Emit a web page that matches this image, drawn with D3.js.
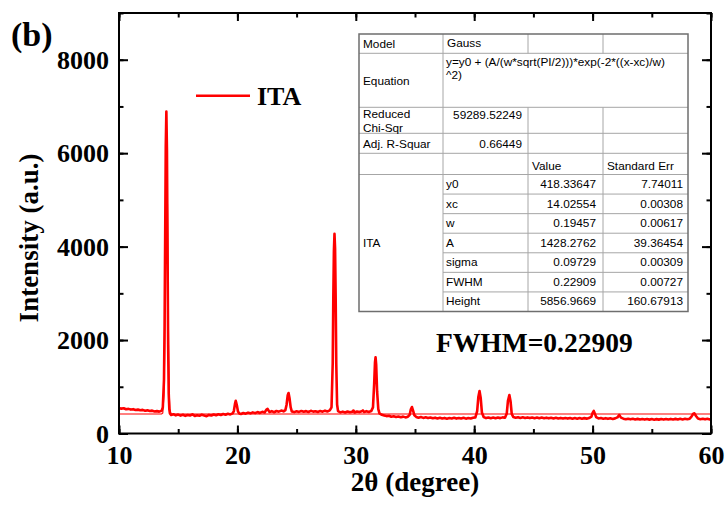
<!DOCTYPE html>
<html>
<head>
<meta charset="utf-8">
<script src="https://cdn.jsdelivr.net/npm/d3@7"></script>
<style>
  body { margin: 0; background: #fff; }
  svg { display: block; }
</style>
</head>
<body>
<svg id="chart" width="727" height="506"></svg>
<script>
// measured XRD scan, [2theta, intensity]
var scan = [
  [10.0,548],[10.2,532],[10.4,541],[10.6,519],[10.8,527],[11.0,512],[11.2,521],[11.4,503],[11.6,511],[11.8,497],
  [12.0,506],[12.2,488],[12.4,495],[12.6,481],[12.8,490],[13.0,472],[13.2,479],[13.4,468],[13.6,486],[13.7,560],
  [13.8,1150],[13.85,2300],[13.9,4200],[13.95,6150],[14.0,6890],[14.05,6050],[14.1,3900],[14.15,1900],[14.2,850],[14.25,520],
  [14.3,430],[14.4,398],[14.6,412],[14.8,389],[15.0,405],[15.2,382],[15.4,401],[15.6,378],[15.8,396],[16.0,385],
  [16.2,409],[16.4,376],[16.6,392],[16.8,380],[17.0,403],[17.2,387],[17.4,371],[17.6,398],[17.8,384],[18.0,406],
  [18.2,390],[18.4,412],[18.6,395],[18.8,418],[19.0,401],[19.2,423],[19.4,409],[19.6,432],[19.7,480],[19.8,640],
  [19.86,702],[19.95,610],[20.05,470],[20.15,430],[20.3,418],[20.5,440],[20.7,425],[20.9,447],[21.1,431],[21.3,452],
  [21.5,436],[21.7,458],[21.9,441],[22.1,463],[22.3,449],[22.45,510],[22.55,525],[22.7,462],[22.9,478],[23.1,455],
  [23.3,482],[23.5,468],[23.7,490],[23.9,474],[24.05,500],[24.15,610],[24.25,820],[24.32,867],[24.4,760],[24.5,560],
  [24.6,470],[24.8,458],[25.0,476],[25.2,462],[25.4,483],[25.6,466],[25.8,479],[26.0,461],[26.2,485],[26.4,468],
  [26.6,476],[26.8,460],[27.0,483],[27.2,467],[27.4,489],[27.6,472],[27.8,495],[27.95,560],[28.05,1500],[28.1,2900],
  [28.15,3900],[28.2,4272],[28.25,3950],[28.3,2900],[28.35,1500],[28.42,620],[28.5,480],[28.7,452],[28.9,468],[29.1,450],
  [29.3,471],[29.5,455],[29.7,466],[29.8,492],[29.9,449],[30.1,472],[30.3,458],[30.5,475],[30.6,494],[30.7,460],
  [30.9,478],[31.1,462],[31.3,480],[31.45,560],[31.55,1050],[31.62,1520],[31.67,1632],[31.72,1480],[31.8,900],[31.9,520],
  [32.0,430],[32.2,401],[32.4,386],[32.6,372],[32.8,380],[33.0,358],[33.2,369],[33.4,352],[33.6,364],[33.8,348],
  [34.0,361],[34.2,345],[34.4,359],[34.55,400],[34.65,520],[34.74,567],[34.85,480],[34.95,390],[35.1,355],[35.3,338],
  [35.5,352],[35.7,334],[35.9,346],[36.1,330],[36.3,343],[36.5,326],[36.7,339],[36.9,322],[37.1,336],[37.3,320],
  [37.5,334],[37.7,318],[37.9,331],[38.1,322],[38.3,337],[38.5,319],[38.7,333],[38.9,321],[39.1,335],[39.3,318],
  [39.5,332],[39.7,320],[39.9,338],[40.1,345],[40.25,480],[40.35,780],[40.45,910],[40.55,760],[40.65,450],[40.8,352],
  [41.0,330],[41.2,344],[41.4,327],[41.6,340],[41.8,325],[42.0,342],[42.2,329],[42.4,345],[42.6,336],[42.75,430],
  [42.85,700],[42.97,824],[43.07,690],[43.17,420],[43.3,352],[43.5,338],[43.7,350],[43.9,334],[44.1,347],[44.3,331],
  [44.5,345],[44.7,330],[44.9,343],[45.1,328],[45.3,341],[45.5,327],[45.7,340],[45.9,325],[46.1,339],[46.3,324],
  [46.5,337],[46.7,322],[46.9,336],[47.1,321],[47.3,334],[47.5,320],[47.7,333],[47.9,319],[48.1,332],[48.3,318],
  [48.5,331],[48.7,317],[48.9,330],[49.1,316],[49.3,329],[49.5,318],[49.7,331],[49.9,360],[50.0,440],[50.1,482],
  [50.2,420],[50.3,350],[50.5,322],[50.7,331],[50.9,316],[51.1,328],[51.3,314],[51.5,326],[51.7,312],[51.9,324],
  [52.1,345],[52.25,396],[52.4,340],[52.6,318],[52.8,305],[53.0,317],[53.2,303],[53.4,315],[53.6,301],[53.8,313],
  [54.0,299],[54.2,311],[54.4,298],[54.6,310],[54.8,297],[55.0,309],[55.2,296],[55.4,308],[55.6,297],[55.8,310],
  [56.0,298],[56.2,311],[56.4,299],[56.6,312],[56.8,300],[57.0,313],[57.2,301],[57.4,314],[57.6,302],[57.8,315],
  [58.0,304],[58.2,318],[58.35,360],[58.5,425],[58.6,432],[58.75,370],[58.9,320],[59.1,306],[59.3,317],[59.5,303],
  [59.7,314],[59.9,301],[60.0,309]
];

// fit results table (Origin Gauss fit)
var paramNames  = ["y0", "xc", "w", "A", "sigma", "FWHM", "Height"];
var paramValues = ["418.33647", "14.02554", "0.19457", "1428.2762", "0.09729", "0.22909", "5856.9669"];
var paramErrors = ["7.74011", "0.00308", "0.00617", "39.36454", "0.00309", "0.00727", "160.67913"];
var equationLines = ["y=y0 + (A/(w*sqrt(PI/2)))*exp(-2*((x-xc)/w)", "^2)"];
var chiSqr = "59289.52249";
var adjR2 = "0.66449";

var xTicks = [10, 20, 30, 40, 50, 60];
var yTicks = [0, 2000, 4000, 6000, 8000];

var svg = d3.select("#chart");
var serif = "'Liberation Serif', 'Times New Roman', serif";
var sans = "'Liberation Sans', Arial, sans-serif";

var x = d3.scaleLinear().domain([10, 60]).range([119, 711]);
var y = d3.scaleLinear().domain([0, 9000]).range([433.5, 13]);

// gauss model from the fitted parameters
var y0 = +paramValues[0], xc = +paramValues[1], w = +paramValues[2], A = +paramValues[3];
function gauss(t) {
  return y0 + (A / (w * Math.sqrt(Math.PI / 2))) * Math.exp(-2 * Math.pow((t - xc) / w, 2));
}

var line = d3.line()
  .x(function(d) { return x(d[0]); })
  .y(function(d) { return y(d[1]); });

svg.append("path")
  .datum(scan)
  .attr("fill", "none")
  .attr("stroke", "#ff0000")
  .attr("stroke-width", 2.6)
  .attr("stroke-linejoin", "round")
  .attr("d", line);

var fitLine = d3.line()
  .x(function(d) { return x(d[0]); })
  .y(function(d) { return y(gauss(d[0])); });

svg.append("path")
  .datum(scan)
  .attr("fill", "none")
  .attr("stroke", "#ff0000")
  .attr("stroke-width", 1.1)
  .attr("d", fitLine);

// axes: inward ticks, minor + major, mirrored on top/right
function styleAxis(g) {
  g.select(".domain").remove();
  g.selectAll(".tick line").attr("stroke", "#000").attr("stroke-width", 2);
  g.selectAll(".tick text")
    .attr("font-family", serif).attr("font-weight", "bold").attr("font-size", 26).attr("fill", "#000");
}

var xMinor = d3.range(10, 61, 5);
var yMinor = d3.range(0, 9001, 1000);

svg.append("g").attr("transform", "translate(0,433.5)")
  .call(d3.axisBottom(x).tickValues(xMinor).tickSize(-4.5).tickFormat(""))
  .call(styleAxis);
svg.append("g").attr("transform", "translate(0,433.5)")
  .call(d3.axisBottom(x).tickValues(xTicks).tickSizeInner(-8).tickSizeOuter(0).tickFormat(d3.format("d")))
  .call(styleAxis)
  .selectAll(".tick text").attr("dy", "0.71em").attr("y", 12);

svg.append("g").attr("transform", "translate(0,13)")
  .call(d3.axisTop(x).tickValues(xMinor).tickSize(-4.5).tickFormat(""))
  .call(styleAxis);
svg.append("g").attr("transform", "translate(0,13)")
  .call(d3.axisTop(x).tickValues(xTicks).tickSize(-8).tickFormat(""))
  .call(styleAxis);

svg.append("g").attr("transform", "translate(119,0)")
  .call(d3.axisLeft(y).tickValues(yMinor).tickSize(-4.5).tickFormat(""))
  .call(styleAxis);
svg.append("g").attr("transform", "translate(119,0)")
  .call(d3.axisLeft(y).tickValues(yTicks).tickSize(-9).tickFormat(d3.format("d")))
  .call(styleAxis)
  .selectAll(".tick text").attr("x", -10).attr("dy", "0.33em");

svg.append("g").attr("transform", "translate(711,0)")
  .call(d3.axisRight(y).tickValues(yMinor).tickSize(-4.5).tickFormat(""))
  .call(styleAxis);
svg.append("g").attr("transform", "translate(711,0)")
  .call(d3.axisRight(y).tickValues(yTicks).tickSize(-9).tickFormat(""))
  .call(styleAxis);

// frame
svg.append("rect")
  .attr("x", 119).attr("y", 13).attr("width", 592).attr("height", 420.5)
  .attr("fill", "none").attr("stroke", "#000").attr("stroke-width", 2);

// axis titles
svg.append("text")
  .attr("x", 415).attr("y", 491)
  .attr("text-anchor", "middle")
  .attr("font-family", serif).attr("font-weight", "bold").attr("font-size", 27)
  .text("2θ (degree)");

svg.append("text")
  .attr("transform", "translate(38,238) rotate(-90)")
  .attr("text-anchor", "middle")
  .attr("font-family", serif).attr("font-weight", "bold").attr("font-size", 27)
  .text("Intensity (a.u.)");

svg.append("text")
  .attr("x", 11).attr("y", 46)
  .attr("font-family", serif).attr("font-weight", "bold").attr("font-size", 34)
  .text("(b)");

// legend
svg.append("line")
  .attr("x1", 196).attr("x2", 250).attr("y1", 95.7).attr("y2", 95.7)
  .attr("stroke", "#ff0000").attr("stroke-width", 2.5);
svg.append("text")
  .attr("x", 257).attr("y", 104.5)
  .attr("font-family", serif).attr("font-weight", "bold").attr("font-size", 26)
  .text("ITA");

svg.append("text")
  .attr("x", 436).attr("y", 352)
  .attr("font-family", serif).attr("font-weight", "bold").attr("font-size", 27.5)
  .text("FWHM=" + paramValues[5]);

// results table
var cols = [359, 443, 528, 603, 688];
var rows = [34, 53.3, 107.3, 133.3, 153.3, 174.5];
var pTop = 174.5, pBot = 311.5, pH = (pBot - pTop) / paramNames.length;
var tbl = svg.append("g");
var inner = "#a6a6a6", outer = "#6e6e6e";

svg.append("clipPath").attr("id", "tblclip")
  .append("rect").attr("x", cols[0]).attr("y", rows[0])
  .attr("width", cols[4] - cols[0]).attr("height", pBot - rows[0]);
tbl.attr("clip-path", "url(#tblclip)");

tbl.append("rect")
  .attr("x", cols[0]).attr("y", rows[0]).attr("width", cols[4] - cols[0]).attr("height", pBot - rows[0])
  .attr("fill", "#fff");

function hline(y1, xa, xb, c) {
  tbl.append("line").attr("x1", xa).attr("x2", xb).attr("y1", y1).attr("y2", y1)
    .attr("stroke", c || inner).attr("stroke-width", 1);
}
function vline(x1, ya, yb, c) {
  tbl.append("line").attr("x1", x1).attr("x2", x1).attr("y1", ya).attr("y2", yb)
    .attr("stroke", c || inner).attr("stroke-width", 1);
}
rows.slice(1).forEach(function(r) { hline(r, cols[0], cols[4]); });
for (var i = 1; i < paramNames.length; i++) hline(pTop + i * pH, cols[1], cols[4]);
vline(cols[1], rows[0], pBot);
vline(cols[2], rows[0], rows[1]);
vline(cols[3], rows[0], rows[1]);
vline(cols[2], rows[2], pBot);
vline(cols[3], rows[2], pBot);

function cell(tx, ty, s, anchor) {
  tbl.append("text").attr("x", tx).attr("y", ty)
    .attr("text-anchor", anchor || "start")
    .attr("font-family", sans).attr("font-size", 11.8).attr("fill", "#000")
    .text(s);
}
cell(cols[0] + 4, 48, "Model");
cell(cols[1] + 4, 47, "Gauss");
cell(cols[0] + 4, 84.5, "Equation");
cell(cols[1] + 3, 65.5, equationLines[0]);
cell(cols[1] + 3, 79, equationLines[1]);
cell(cols[0] + 4, 118, "Reduced");
cell(cols[0] + 4, 131.5, "Chi-Sqr");
cell(cols[2] - 6, 119, chiSqr, "end");
cell(cols[0] + 4, 148, "Adj. R-Squar");
cell(cols[2] - 6, 148, adjR2, "end");
cell(cols[2] + 4, 169.5, "Value");
cell(cols[3] + 4, 169.5, "Standard Err");
cell(cols[0] + 4, (pTop + pBot) / 2 + 4, "ITA");
paramNames.forEach(function(n, k) {
  var by = pTop + k * pH + 13.5;
  cell(cols[1] + 3, by, n);
  cell(cols[3] - 7, by, paramValues[k], "end");
  cell(cols[4] - 5, by, paramErrors[k], "end");
});

svg.append("rect")
  .attr("x", cols[0]).attr("y", rows[0]).attr("width", cols[4] - cols[0]).attr("height", pBot - rows[0])
  .attr("fill", "none").attr("stroke", outer).attr("stroke-width", 1.5);
</script>
</body>
</html>
